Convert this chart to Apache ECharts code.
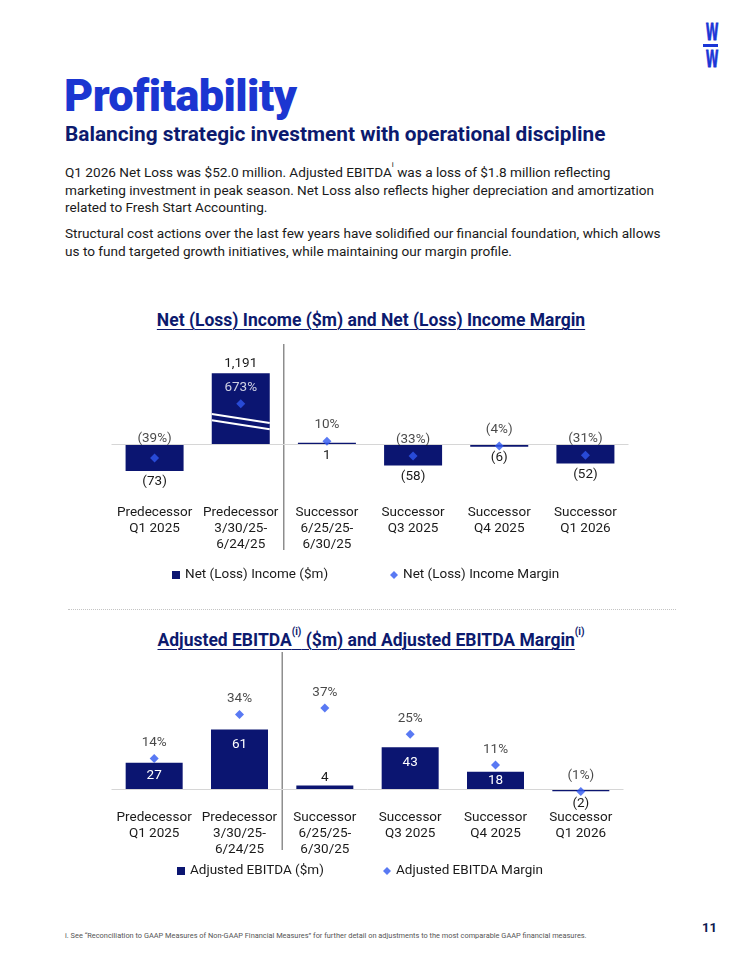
<!DOCTYPE html>
<html><head><meta charset="utf-8">
<script src="https://cdn.jsdelivr.net/npm/echarts@6/dist/echarts.min.js"></script>
<style>
html,body{margin:0;padding:0;background:#fff;}
#page{position:relative;width:742px;height:960px;overflow:hidden;font-family:Roboto,'Liberation Sans',sans-serif;color:#1a1a1a;background:#fff;}
.abs{position:absolute;white-space:nowrap;}
.lw{left:696px;width:32px;text-align:center;color:#1b36d6;font-family:'DejaVu Sans','Liberation Sans',sans-serif;font-weight:bold;font-size:23px;line-height:23px;transform:scaleX(0.5);-webkit-text-stroke:0.8px #1b36d6;}
#lbar{left:703px;top:44px;width:15px;height:2.5px;background:#1b36d6;z-index:3;}
#h1{left:64px;top:71px;font-size:45px;line-height:50px;font-weight:900;color:#1b36d1;letter-spacing:-0.6px;}
#h2{left:65px;top:123px;font-size:20.8px;line-height:22px;font-weight:700;color:#0c1a6e;}
.p{left:65px;font-size:13.6px;line-height:17.6px;color:#1a1a1a;}
.p sup{font-size:8px;line-height:0;vertical-align:top;position:relative;top:1px;}
.ct{left:0;width:742px;text-align:center;font-size:17.5px;line-height:22px;font-weight:700;color:#0c1a6e;}
.ul{text-decoration:underline;text-underline-offset:3px;text-decoration-thickness:1px;}
.ct sup{font-size:10px;line-height:0;vertical-align:baseline;position:relative;top:-11px;}
#sep{left:68px;top:609px;width:608px;border-top:1px dotted #c4c4c4;}
#foot{left:65px;top:931px;font-size:7.4px;line-height:10px;color:#555;}
#pg{left:702px;top:920px;font-size:13px;line-height:16px;font-weight:700;color:#0c1a4f;}
#chart{position:absolute;left:0;top:0;width:742px;height:960px;z-index:2;}
</style></head>
<body><div id="page">
<div class="abs lw" style="top:21px;">W</div>
<div class="abs lw" style="top:48px;">W</div>
<div id="lbar" class="abs"></div>
<div id="h1" class="abs">Profitability</div>
<div id="h2" class="abs">Balancing strategic investment with operational discipline</div>
<div class="abs p" style="top:164px;">Q1 2026 Net Loss was $52.0 million. Adjusted EBITDA<sup>i</sup> was a loss of $1.8 million reflecting<br>marketing investment in peak season. Net Loss also reflects higher depreciation and amortization<br>related to Fresh Start Accounting.</div>
<div class="abs p" style="top:225px;">Structural cost actions over the last few years have solidified our financial foundation, which allows<br>us to fund targeted growth initiatives, while maintaining our margin profile.</div>
<div class="abs ct" style="top:309px;"><span class="ul">Net (Loss) Income ($m) and Net (Loss) Income Margin</span></div>
<div id="sep" class="abs"></div>
<div class="abs ct" style="top:629px;"><span class="ul">Adjusted EBITDA<sup>(i)</sup> ($m) and Adjusted EBITDA Margin</span><sup>(i)</sup></div>
<div id="foot" class="abs">i. See “Reconciliation to GAAP Measures of Non-GAAP Financial Measures” for further detail on adjustments to the most comparable GAAP financial measures.</div>
<div id="pg" class="abs">11</div>
<div id="chart"></div>
</div>
<script>
// ---- data ----
const categories = ['Predecessor\nQ1 2025', 'Predecessor\n3/30/25-\n6/24/25', 'Successor\n6/25/25-\n6/30/25', 'Successor\nQ3 2025', 'Successor\nQ4 2025', 'Successor\nQ1 2026'];
const netIncome = [-73, 1191, 1, -58, -6, -52];
const netIncomeMargin = [-39, 673, 10, -33, -4, -31];
const adjEbitda = [27, 61, 4, 43, 18, -2];
const adjEbitdaMargin = [14, 34, 37, 25, 11, -1];
const legendNames1 = ['Net (Loss) Income ($m)', 'Net (Loss) Income Margin'];
const legendNames2 = ['Adjusted EBITDA ($m)', 'Adjusted EBITDA Margin'];
// collapsed (broken) value ranges on chart 1 axes
const incomeBreak = {start: 50, end: 1078, gap: 35.3};
const marginBreak = {start: 40, end: 660, gap: 67.6};

const NAVY = '#0b1571', DIAMOND = '#2f58f0', TXT = '#1a1a1a', FONT = 'Roboto';
const fmtNum = v => v < 0 ? '(' + Math.abs(v).toLocaleString('en-US') + ')' : v.toLocaleString('en-US');
const fmtPct = v => v < 0 ? '(' + Math.abs(v) + '%)' : v + '%';
const lbl = {fontSize: 13.5, color: TXT, fontFamily: FONT};

const chart = echarts.init(document.getElementById('chart'), null, {renderer: 'canvas'});
const xCommon = {type: 'category', axisLine: {show: false}, axisTick: {show: false}, splitLine: {show: false},
  axisLabel: {interval: 0, fontSize: 13.5, lineHeight: 16.4, color: TXT, margin: 9, fontFamily: FONT}};
const zeroLine = {silent: true, symbol: 'none', label: {show: false}, lineStyle: {color: '#d6d6d6', width: 1, type: 'solid'}, data: [{yAxis: 0}]};
const legendCommon = {padding: 0, itemWidth: 8, itemHeight: 8, selectedMode: false, textStyle: {fontSize: 13.5, color: TXT, fontFamily: FONT}};

const option = {
  animation: false,
  textStyle: {fontFamily: FONT},
  grid: [
    {left: 111.5, top: 355, width: 517, height: 140, containLabel: false, outerBoundsMode: 'none'},
    {left: 111.5, top: 665, width: 512, height: 135, containLabel: false, outerBoundsMode: 'none'}
  ],
  xAxis: [
    Object.assign({}, xCommon, {gridIndex: 0, data: categories}),
    Object.assign({}, xCommon, {gridIndex: 1, data: categories})
  ],
  yAxis: [
    {gridIndex: 0, type: 'value', show: false, min: -139.7, max: 1241.9, breaks: [incomeBreak], breakArea: {show: false}},
    {gridIndex: 0, type: 'value', show: false, min: -147.9, max: 816.2, breaks: [marginBreak], breakArea: {show: false}},
    {gridIndex: 1, type: 'value', show: false, min: -10.9, max: 126.8},
    {gridIndex: 1, type: 'value', show: false, min: -4.86, max: 56.5}
  ],
  legend: [
    Object.assign({}, legendCommon, {left: 172, top: 568, data: [{name: legendNames1[0], icon: 'rect'}]}),
    Object.assign({}, legendCommon, {left: 390, top: 568, data: [{name: legendNames1[1], icon: 'diamond'}]}),
    Object.assign({}, legendCommon, {left: 177, top: 864, data: [{name: legendNames2[0], icon: 'rect'}]}),
    Object.assign({}, legendCommon, {left: 383, top: 864, data: [{name: legendNames2[1], icon: 'diamond'}]})
  ],
  series: [
    {name: legendNames1[0], type: 'bar', xAxisIndex: 0, yAxisIndex: 0, barWidth: 58, barMinHeight: 2,
     itemStyle: {color: NAVY},
     data: netIncome.map(v => ({value: v, label: v > 100 ? {position: 'top', distance: 3} : {position: 'bottom', distance: 4}})),
     label: Object.assign({show: true, formatter: p => fmtNum(p.value)}, lbl),
     markLine: zeroLine, z: 2},
    {name: legendNames1[1], type: 'scatter', xAxisIndex: 0, yAxisIndex: 1, symbol: 'diamond', symbolSize: 9,
     itemStyle: {color: DIAMOND}, z: 5,
     data: netIncomeMargin.map(v => ({value: v, label: v > 100 ? {color: '#ffffff'} : (v < -35 ? {distance: 8} : {})})),
     label: Object.assign({show: true, position: 'top', distance: 5, formatter: p => fmtPct(p.value)}, lbl)},
    {name: legendNames2[0], type: 'bar', xAxisIndex: 1, yAxisIndex: 2, barWidth: 57, barMinHeight: 2,
     itemStyle: {color: NAVY},
     data: adjEbitda.map(v => {
       let l;
       if (v >= 30) l = {position: 'insideTop', distance: 8, color: '#ffffff'};
       else if (v >= 10) l = {position: 'inside', color: '#ffffff'};
       else if (v > 0) l = {position: 'top', distance: 1};
       else l = {position: 'bottom', distance: 5};
       return {value: v, label: l};
     }),
     label: Object.assign({show: true, formatter: p => fmtNum(p.value)}, lbl),
     markLine: zeroLine, z: 2},
    {name: legendNames2[1], type: 'scatter', xAxisIndex: 1, yAxisIndex: 3, symbol: 'diamond', symbolSize: 9,
     itemStyle: {color: DIAMOND}, z: 5,
     data: adjEbitdaMargin,
     label: Object.assign({show: true, position: 'top', distance: 4, formatter: p => fmtPct(p.value)}, lbl)}
  ]
};
chart.setOption(option);

// decorations derived from the axes
const xp = (i, c) => chart.convertToPixel({xAxisIndex: i}, c);
const yp = (i, v) => chart.convertToPixel({yAxisIndex: i}, v);
const sep1 = (xp(0, categories[1]) + xp(0, categories[2])) / 2;
const sep2 = (xp(1, categories[1]) + xp(1, categories[2])) / 2;
const bx = xp(0, categories[1]);
const yHi = yp(0, incomeBreak.end), yLo = yp(0, incomeBreak.start);
chart.setOption({graphic: [
  {type: 'line', silent: true, z: 1, shape: {x1: sep1, y1: 344, x2: sep1, y2: 550}, style: {stroke: '#555', lineWidth: 1}},
  {type: 'line', silent: true, z: 1, shape: {x1: sep2, y1: 652, x2: sep2, y2: 850}, style: {stroke: '#555', lineWidth: 1}},
  {type: 'line', silent: true, z: 10, shape: {x1: bx - 29, y1: yHi, x2: bx + 29, y2: yHi + 9}, style: {stroke: '#ffffff', lineWidth: 2}},
  {type: 'line', silent: true, z: 10, shape: {x1: bx - 29, y1: yLo - 6.5, x2: bx + 29, y2: yLo + 2.5}, style: {stroke: '#ffffff', lineWidth: 2}}
]});
</script>
</body></html>
